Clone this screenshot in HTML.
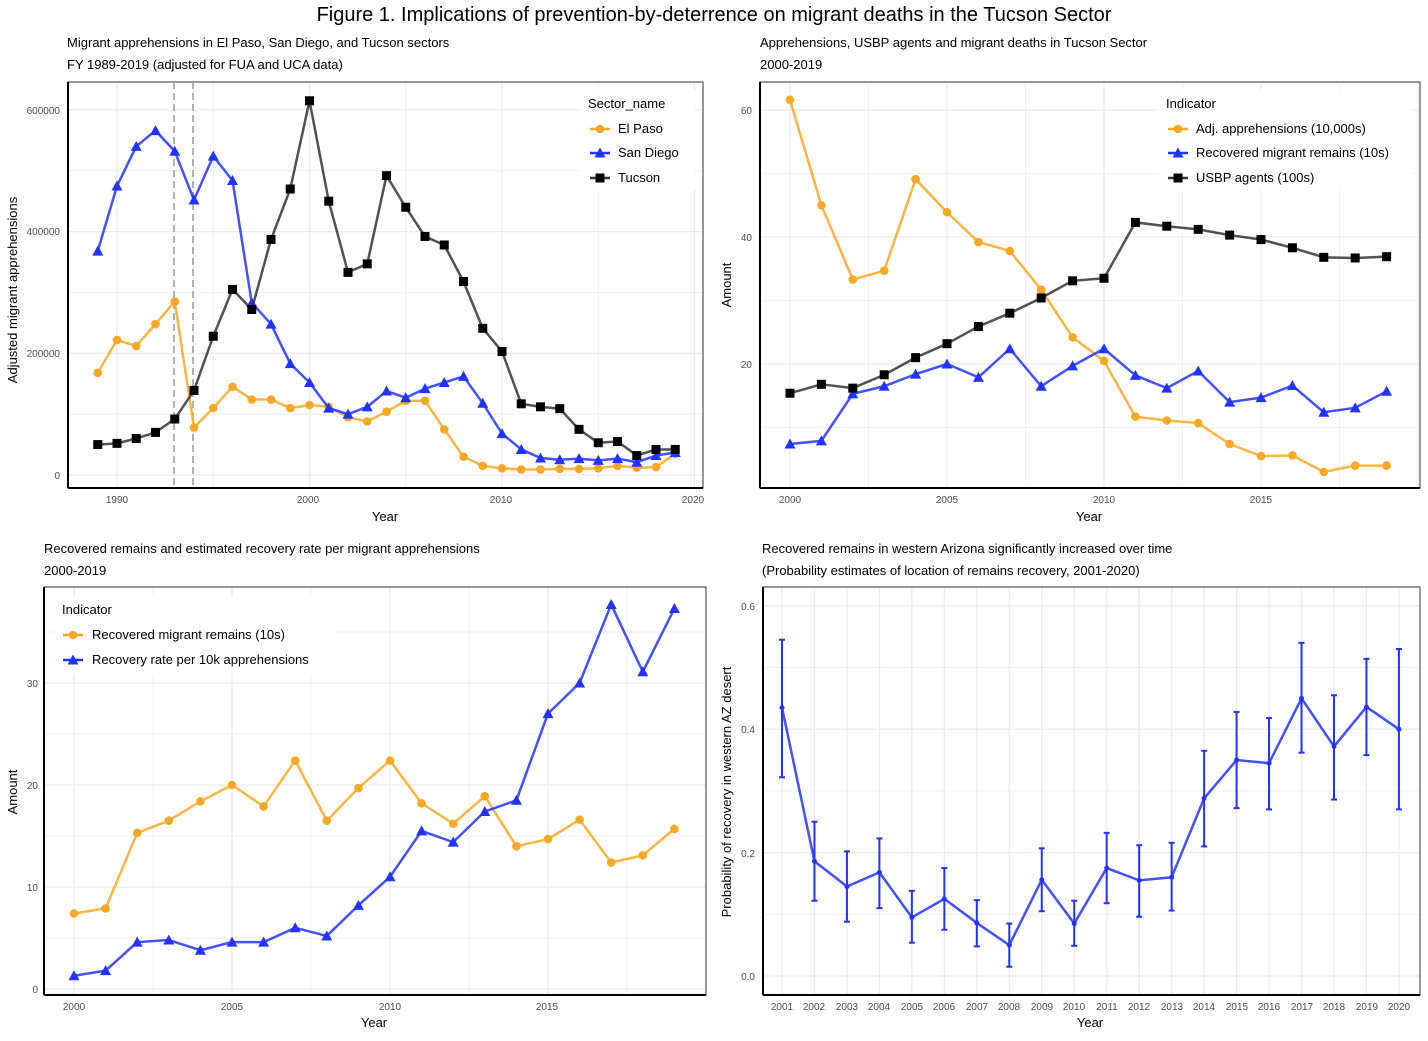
<!DOCTYPE html>
<html><head><meta charset="utf-8"><style>
body{margin:0;background:#fff;width:1428px;height:1036px;overflow:hidden;font-family:"Liberation Sans",sans-serif;}
svg text{font-family:"Liberation Sans",sans-serif;}
</style></head><body>
<svg id="s" width="1428" height="1036" xmlns="http://www.w3.org/2000/svg">
<rect width="1428" height="1036" fill="#fff"/>
<g id="grid"></g>
<g id="data"></g>
<text x="714" y="21" font-size="20" text-anchor="middle">Figure 1. Implications of prevention-by-deterrence on migrant deaths in the Tucson Sector</text>
<text x="67" y="47" font-size="13">Migrant apprehensions in El Paso, San Diego, and Tucson sectors</text>
<text x="67" y="69" font-size="13">FY 1989-2019 (adjusted for FUA and UCA data)</text>
<text x="760" y="47" font-size="13">Apprehensions, USBP agents and migrant deaths in Tucson Sector</text>
<text x="760" y="69" font-size="13">2000-2019</text>
<text x="44" y="553" font-size="13">Recovered remains and estimated recovery rate per migrant apprehensions</text>
<text x="44" y="575" font-size="13">2000-2019</text>
<text x="762" y="553" font-size="13">Recovered remains in western Arizona significantly increased over time</text>
<text x="762" y="575" font-size="13">(Probability estimates of location of remains recovery, 2001-2020)</text>
<g font-size="10" fill="#4d4d4d" text-anchor="end">
<text x="60" y="479">0</text><text x="60" y="357">200000</text><text x="60" y="235">400000</text><text x="60" y="114">600000</text>
<text x="752" y="368">20</text><text x="752" y="241">40</text><text x="752" y="114">60</text>
<text x="38" y="993">0</text><text x="38" y="891">10</text><text x="38" y="789">20</text><text x="38" y="687">30</text>
<text x="755" y="980">0.0</text><text x="755" y="857">0.2</text><text x="755" y="733">0.4</text><text x="755" y="610">0.6</text>
</g>
<g font-size="10" fill="#4d4d4d" text-anchor="middle">
<text x="117" y="503">1990</text><text x="308" y="503">2000</text><text x="501" y="503">2010</text><text x="693" y="503">2020</text>
<text x="790" y="503">2000</text><text x="947" y="503">2005</text><text x="1104" y="503">2010</text><text x="1261" y="503">2015</text>
<text x="74" y="1010">2000</text><text x="232" y="1010">2005</text><text x="390" y="1010">2010</text><text x="547" y="1010">2015</text>
<text x="782" y="1010">2001</text><text x="814" y="1010">2002</text><text x="847" y="1010">2003</text><text x="879" y="1010">2004</text><text x="912" y="1010">2005</text><text x="944" y="1010">2006</text><text x="977" y="1010">2007</text><text x="1009" y="1010">2008</text><text x="1042" y="1010">2009</text><text x="1074" y="1010">2010</text><text x="1107" y="1010">2011</text><text x="1139" y="1010">2012</text><text x="1172" y="1010">2013</text><text x="1204" y="1010">2014</text><text x="1237" y="1010">2015</text><text x="1269" y="1010">2016</text><text x="1302" y="1010">2017</text><text x="1334" y="1010">2018</text><text x="1367" y="1010">2019</text><text x="1399" y="1010">2020</text>
</g>
<g font-size="13" text-anchor="middle">
<text x="385" y="521">Year</text><text x="1089" y="521">Year</text><text x="374" y="1027">Year</text><text x="1090" y="1027">Year</text>
<text transform="translate(17,290) rotate(-90)">Adjusted migrant apprehensions</text>
<text transform="translate(731,285) rotate(-90)">Amount</text>
<text transform="translate(17,792) rotate(-90)">Amount</text>
<text transform="translate(731,792) rotate(-90)">Probability of recovery in western AZ desert</text>
</g>
<g id="leg"></g>
<g font-size="13">
<text x="588" y="108">Sector_name</text>
<text x="618" y="133">El Paso</text><text x="618" y="157">San Diego</text><text x="618" y="182">Tucson</text>
<text x="1166" y="108">Indicator</text>
<text x="1196" y="133">Adj. apprehensions (10,000s)</text><text x="1196" y="157">Recovered migrant remains (10s)</text><text x="1196" y="182">USBP agents (100s)</text>
<text x="62" y="614">Indicator</text>
<text x="92" y="639">Recovered migrant remains (10s)</text><text x="92" y="664">Recovery rate per 10k apprehensions</text>
</g>
</svg>
<script>
var NS="http://www.w3.org/2000/svg",G=document.getElementById('grid'),D=document.getElementById('data'),L=document.getElementById('leg');
function el(p,t,a){var e=document.createElementNS(NS,t);for(var k in a)e.setAttribute(k,a[k]);p.appendChild(e);return e;}
var OR="#f9a825",BL="#2233ff",BK="#333";
function panel(x0,y0,x1,y1,vx,hy){el(G,'rect',{x:x0,y:y0,width:x1-x0,height:y1-y0,fill:'#fff'});
 vx.forEach(function(v){if(v[0]<=x0||v[0]>=x1)return;el(G,'line',{x1:v[0],x2:v[0],y1:y0,y2:y1,stroke:'#ebebeb','stroke-width':v[1]?1.3:0.7});});
 hy.forEach(function(v){if(v[0]<=y0||v[0]>=y1)return;el(G,'line',{y1:v[0],y2:v[0],x1:x0,x2:x1,stroke:'#ebebeb','stroke-width':v[1]?1.3:0.7});});
 el(G,'rect',{x:x0,y:y0,width:x1-x0,height:y1-y0,fill:'none',stroke:'#333','stroke-width':1});
 el(G,'line',{x1:x0,x2:x1,y1:y1,y2:y1,stroke:'#000','stroke-width':2});el(G,'line',{x1:x0,x2:x0,y1:y0,y2:y1,stroke:'#000','stroke-width':2});}
function mk(p,x,y,sh,c){if(sh=='c')el(p,'circle',{cx:x,cy:y,r:4.3,fill:c});else if(sh=='t')el(p,'polygon',{points:(x-5.5)+','+(y+4.5)+' '+(x+5.5)+','+(y+4.5)+' '+x+','+(y-5.5),fill:c});else el(p,'rect',{x:x-4.5,y:y-4.5,width:9,height:9,fill:'#000'});}
function series(xs,ys,sh,c){var pts=xs.map(function(x,i){return x+','+ys[i];}).join(' ');el(D,'polyline',{points:pts,fill:'none',stroke:c,'stroke-width':2.5,'stroke-linejoin':'round',opacity:0.85});xs.forEach(function(x,i){mk(D,x,ys[i],sh,c);});}
function range(a,b){var r=[];for(var i=a;i<=b;i++)r.push(i);return r;}
var v1=[];[1985,1990,1995,2000,2005,2010,2015,2020].forEach(function(y){v1.push([117+(y-1990)*19.25,y%10==0]);});
var h1=[];for(var k=0;k<=6;k++)h1.push([475-k*60.85,k%2==0]);
panel(68,82,703,488,v1,h1);
el(D,'line',{x1:174,x2:174,y1:82,y2:488,stroke:'#999','stroke-width':1.5,'stroke-dasharray':'7,4'});
el(D,'line',{x1:193,x2:193,y1:82,y2:488,stroke:'#999','stroke-width':1.5,'stroke-dasharray':'7,4'});
var yr1=range(1989,2019).map(function(y){return 117+(y-1990)*19.25;});
function Y1(v){return 475-v*0.6085;}
var ep=[168,222,212,248,285,78,110,145,124,124,110,115,112,95,88,104,122,122,75,30,15,11,9,9,10,10,11,15,12,13,35];
var sd=[368,475,540,566,532,452,524,484,283,248,183,152,110,100,112,138,127,142,152,162,118,68,42,28,25,27,24,27,21,32,37];
var tu=[50,52,60,70,92,139,228,305,272,387,470,615,450,333,347,492,440,392,378,318,241,203,117,112,109,75,53,55,32,42,42];
series(yr1,ep.map(Y1),'c',OR);series(yr1,sd.map(Y1),'t',BL);series(yr1,tu.map(Y1),'s',BK);
var v2=[];for(var y=2000;y<=2020;y+=2.5)v2.push([790+(y-2000)*31.4,y%5==0]);
var h2=[];for(var v=10;v<=60;v+=10)h2.push([491-v*6.35,v%20==0]);
panel(760,82,1420,488,v2,h2);
var yr2=range(2000,2019).map(function(y){return 790+(y-2000)*31.4;});
function Y2(v){return 491-v*6.35;}
var app=[61.6,45,33.3,34.7,49.1,43.9,39.2,37.8,31.7,24.2,20.5,11.7,11.1,10.7,7.4,5.5,5.6,3,4,4];
var rem=[7.4,7.9,15.3,16.5,18.4,20,17.9,22.4,16.5,19.7,22.4,18.2,16.2,18.9,14,14.7,16.6,12.4,13.1,15.7];
var ag=[15.4,16.8,16.2,18.3,21,23.2,25.9,28,30.4,33.1,33.5,42.3,41.7,41.2,40.3,39.6,38.3,36.8,36.7,36.9];
series(yr2,app.map(Y2),'c',OR);series(yr2,rem.map(Y2),'t',BL);series(yr2,ag.map(Y2),'s',BK);
var v3=[];for(var y=2000;y<=2020;y+=2.5)v3.push([74+(y-2000)*31.6,y%5==0]);
var h3=[];for(var v=0;v<=35;v+=5)h3.push([989-v*10.2,v%10==0]);
panel(44,587,706,995,v3,h3);
var yr3=range(2000,2019).map(function(y){return 74+(y-2000)*31.6;});
function Y3(v){return 989-v*10.2;}
var rate=[1.3,1.8,4.6,4.8,3.8,4.6,4.6,6,5.2,8.2,11,15.5,14.4,17.4,18.5,27,30,37.7,31.1,37.3];
series(yr3,rem.map(Y3),'c',OR);series(yr3,rate.map(Y3),'t',BL);
var v4=[];for(var y=2001;y<=2020;y++)v4.push([782+(y-2001)*32.47,true]);
var h4=[];for(var v=0;v<=6;v++)h4.push([976-v*61.7,v%2==0]);
panel(763,587,1420,995,v4,h4);
var est=[.435,.186,.145,.168,.095,.125,.086,.05,.156,.085,.175,.155,.16,.288,.35,.345,.45,.372,.436,.4];
var lo=[.322,.122,.088,.11,.054,.075,.048,.015,.105,.049,.118,.096,.106,.21,.272,.27,.362,.286,.358,.27];
var hi=[.545,.25,.202,.223,.138,.175,.123,.085,.207,.122,.232,.212,.216,.365,.428,.418,.54,.455,.514,.53];
function Y4(v){return 976-v*617;}
var xs4=range(2001,2020).map(function(y){return 782+(y-2001)*32.47;});
el(D,'polyline',{points:xs4.map(function(x,i){return x+','+Y4(est[i]);}).join(' '),fill:'none',stroke:BL,'stroke-width':2.5,opacity:0.85});
xs4.forEach(function(x,i){var a=Y4(hi[i]),b=Y4(lo[i]);el(D,'line',{x1:x,x2:x,y1:a,y2:b,stroke:BL,'stroke-width':2});
 el(D,'line',{x1:x-3,x2:x+3,y1:a,y2:a,stroke:BL,'stroke-width':2});el(D,'line',{x1:x-3,x2:x+3,y1:b,y2:b,stroke:BL,'stroke-width':2});
 el(D,'circle',{cx:x,cy:Y4(est[i]),r:2.5,fill:BL});});
function lg(x0,y0,w,h,items){el(L,'rect',{x:x0,y:y0,width:w,height:h,fill:'#fff'});items.forEach(function(it){el(L,'line',{x1:it[0]-10,x2:it[0]+10,y1:it[1],y2:it[1],stroke:it[3],'stroke-width':2.5});mk(L,it[0],it[1],it[2],it[3]);});}
lg(580,90,115,100,[[600,129,'c',OR],[600,153,'t',BL],[600,178,'s',BK]]);
lg(1158,90,255,100,[[1178,129,'c',OR],[1178,153,'t',BL],[1178,178,'s',BK]]);
lg(54,597,280,77,[[73,635,'c',OR],[73,660,'t',BL]]);
</script>
</body></html>
